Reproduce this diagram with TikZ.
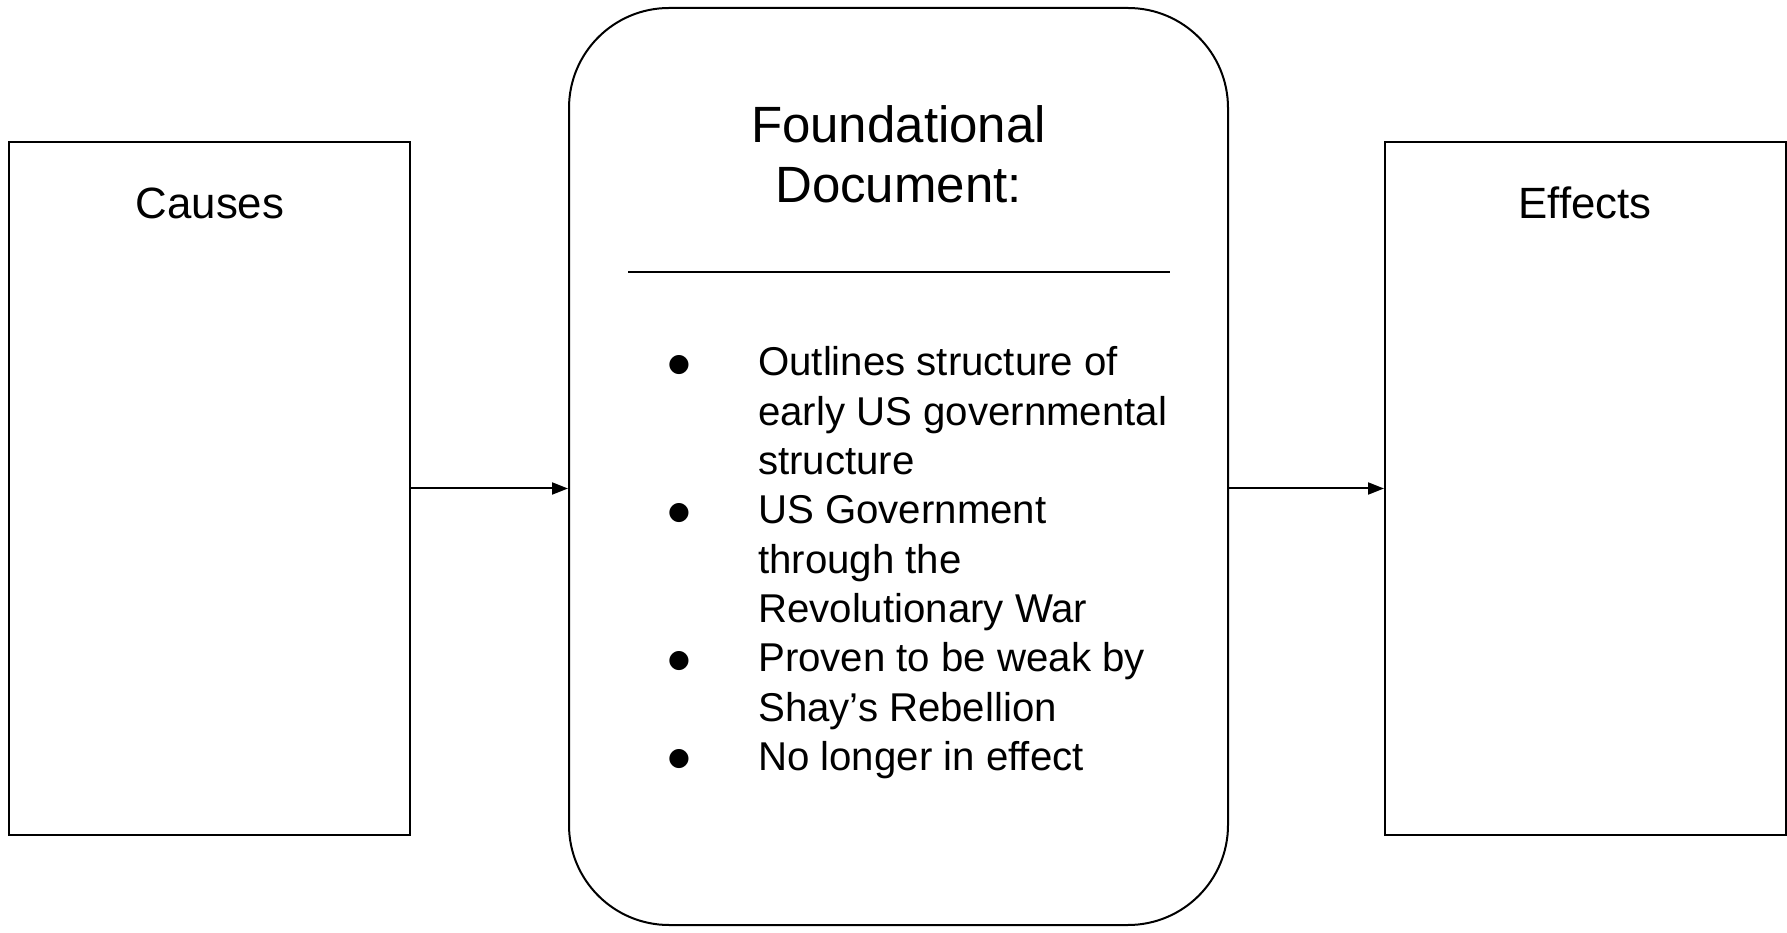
\documentclass[tikz,border=0pt]{standalone}
\usepackage{fontspec}
\setmainfont{Liberation Sans}
\newfontfamily\symfont{DejaVu Sans}
\usetikzlibrary{arrows.meta}
\begin{document}
\begin{tikzpicture}[x=1pt,y=1pt,
  boxstyle/.style={draw=black,line width=2pt,rectangle,inner sep=0pt},
  conn/.style={line width=2pt,-{Triangle[length=16pt,width=12pt]}},
  body/.style={font=\fontsize{40.2}{49.3}\selectfont,inner sep=0pt},
  lbl/.style={font=\fontsize{43.8}{52.9}\selectfont,inner sep=0pt},
  titlefont/.style={font=\fontsize{51}{60}\selectfont,inner sep=0pt},
  bul/.style={font=\symfont\fontsize{25}{25}\selectfont,inner sep=0pt,anchor=center}]
\useasboundingbox (0,0) rectangle (1787,932);
\node[boxstyle,minimum width=401pt,minimum height=693pt] (causes) at (209.5,443.5) {};
\node[boxstyle,minimum width=401pt,minimum height=693pt] (effects) at (1585.5,443.5) {};
\node[boxstyle,rounded corners=100pt,minimum width=659pt,minimum height=917pt] (doc) at (898.5,465.5) {};
\node[lbl,anchor=base] (causestxt) at (210,713) {Causes};
\node[lbl,anchor=base] (effectstxt) at (1585,713) {Effects};
\node[titlefont,anchor=base] (t1) at (898.5,789) {Foundational};
\node[titlefont,anchor=base] (t2) at (898.5,729) {Document:};
\coordinate (hl) at (628,660);
\coordinate (hr) at (1170,660);
\draw[line width=2pt] (hl) -- (hr);
\node[body,anchor=base west,align=left] (i1) at (758,457.4) {Outlines structure of\\early US governmental\\structure};
\node[body,anchor=base west,align=left] (i2) at (758,309.5) {US Government\\through the\\Revolutionary War};
\node[body,anchor=base west,align=left] (i3) at (758,210.9) {Proven to be weak by\\Shay’s Rebellion};
\node[body,anchor=base west,align=left] (i4) at (758,161.6) {No longer in effect};
\node[bul] (b1) at (679,567) {●};
\node[bul] (b2) at (679,419.1) {●};
\node[bul] (b3) at (679,271.2) {●};
\node[bul] (b4) at (679,172.6) {●};
\draw[conn] (causes.east) -- (causes.east -| doc.west);
\draw[conn] (effects.west -| doc.east) -- (effects.west);
\end{tikzpicture}
\end{document}
